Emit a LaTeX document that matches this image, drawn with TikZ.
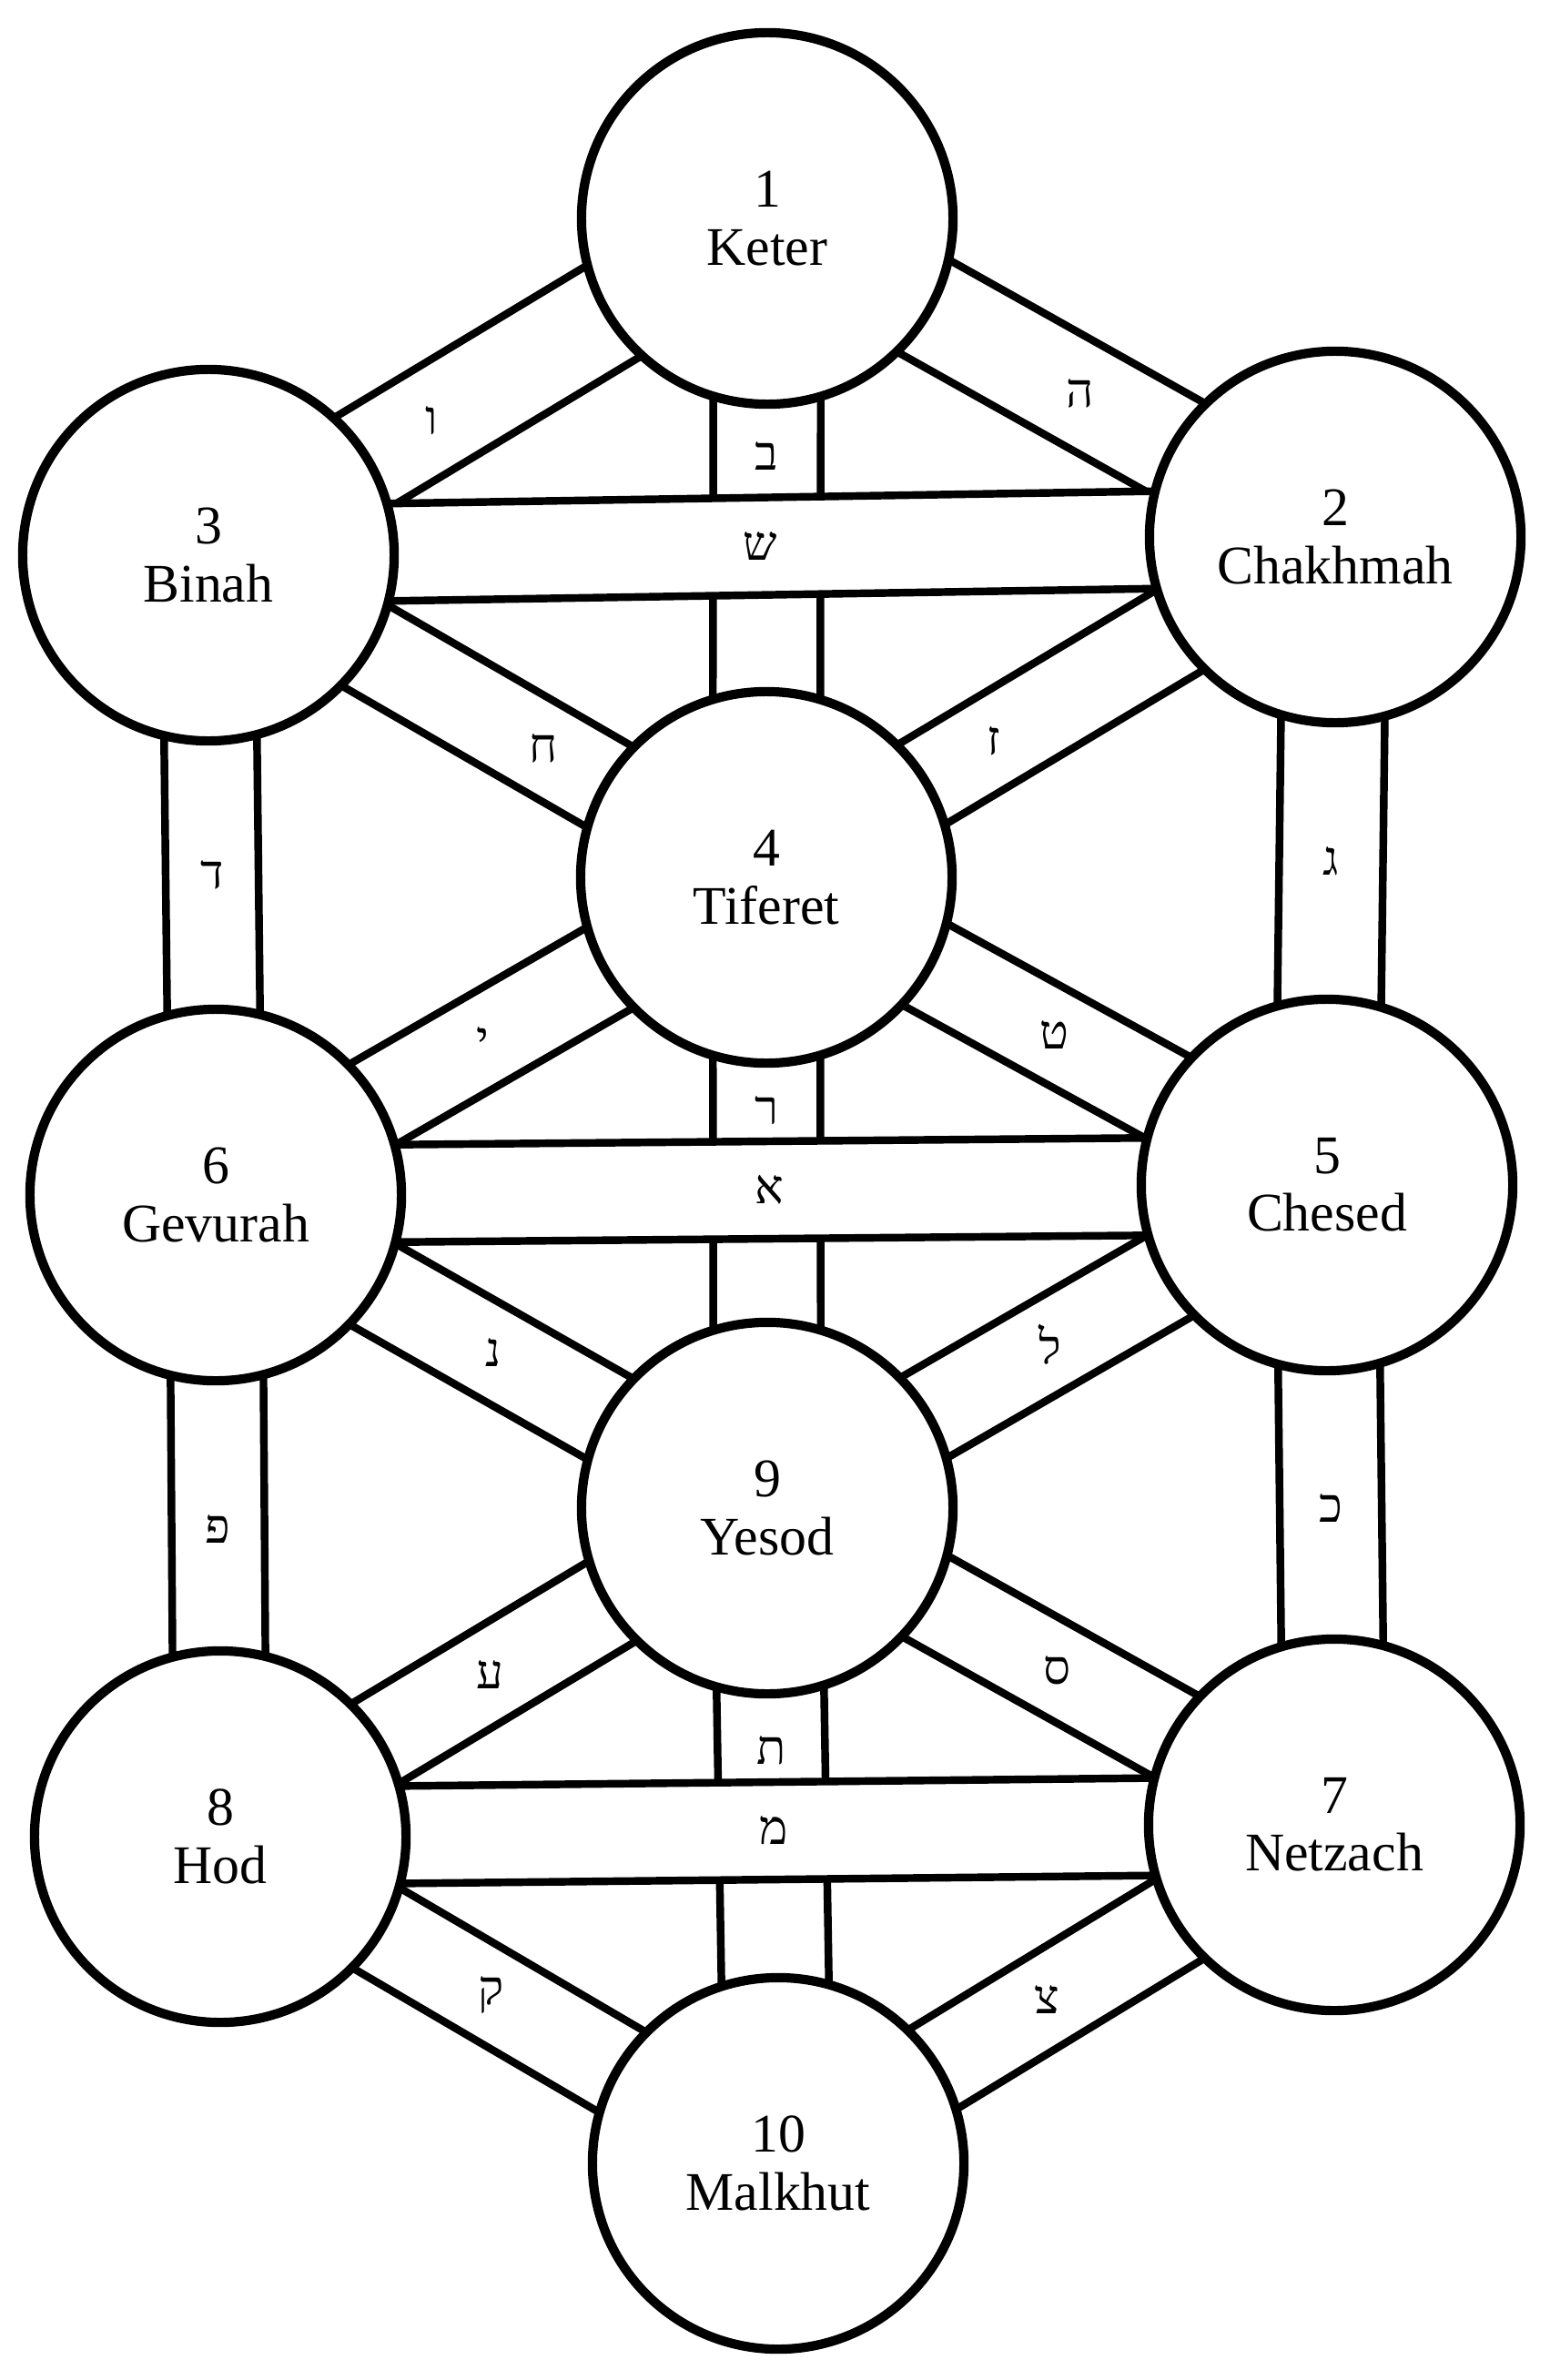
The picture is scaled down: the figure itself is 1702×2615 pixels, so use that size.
\documentclass[tikz,border=0pt]{standalone}
\usepackage{fontspec}
\setmainfont{Liberation Serif}
\newfontfamily\hebfont[Script=Hebrew]{Liberation Serif}
\usetikzlibrary{calc,backgrounds}

\tikzset{
  sefira/.style={circle, draw, line width=2.9pt, fill=white, minimum size=4.08cm,
    inner sep=0pt, align=center, font=\fontsize{17}{18}\selectfont},
  channel/.style={draw, fill=white, line width=2.4pt},
  letter/.style={font=\hebfont\fontsize{15}{15}\selectfont, inner sep=1pt},
}
% #1 half width, #2 and #3 the two sefirot
\newcommand\channel[3]{%
  \draw[channel] ($(#2)!#1!90:(#3)$) -- ($(#3)!#1!-90:(#2)$)
    -- ($(#3)!#1!90:(#2)$) -- ($(#2)!#1!-90:(#3)$) -- cycle;}

\begin{document}
\begin{tikzpicture}[x=0.01cm, y=-0.01cm]
  \useasboundingbox (0,0) rectangle (1702,2615);

  \node[sefira] (keter)    at (843,240)   {1\\Keter};
  \node[sefira] (chakhmah) at (1467,590)  {2\\Chakhmah};
  \node[sefira] (binah)    at (229,610)   {3\\Binah};
  \node[sefira] (tiferet)  at (842,964)   {4\\Tiferet};
  \node[sefira] (chesed)   at (1458,1302) {5\\Chesed};
  \node[sefira] (gevurah)  at (237,1313)  {6\\Gevurah};
  \node[sefira] (netzach)  at (1466,2005) {7\\Netzach};
  \node[sefira] (hod)      at (242,2018)  {8\\Hod};
  \node[sefira] (yesod)    at (843,1657)  {9\\Yesod};
  \node[sefira] (malkhut)  at (855,2377)  {10\\Malkhut};

  \begin{scope}[on background layer]
    % vertical paths
    \channel{0.59cm}{keter}{tiferet}
    \channel{0.59cm}{tiferet}{yesod}
    \channel{0.59cm}{yesod}{malkhut}
    \channel{0.51cm}{binah}{gevurah}
    \channel{0.57cm}{chakhmah}{chesed}
    \channel{0.51cm}{gevurah}{hod}
    \channel{0.56cm}{chesed}{netzach}
    % diagonal paths
    \channel{0.58cm}{keter}{binah}
    \channel{0.58cm}{keter}{chakhmah}
    \channel{0.51cm}{binah}{tiferet}
    \channel{0.51cm}{chakhmah}{tiferet}
    \channel{0.51cm}{gevurah}{tiferet}
    \channel{0.51cm}{chesed}{tiferet}
    \channel{0.51cm}{gevurah}{yesod}
    \channel{0.51cm}{chesed}{yesod}
    \channel{0.51cm}{hod}{yesod}
    \channel{0.51cm}{netzach}{yesod}
    \channel{0.51cm}{hod}{malkhut}
    \channel{0.51cm}{netzach}{malkhut}
    % horizontal paths
    \channel{0.535cm}{binah}{chakhmah}
    \channel{0.535cm}{gevurah}{chesed}
    \channel{0.535cm}{hod}{netzach}
  \end{scope}

  % letters
  \path (keter.center) -- (binah.center) node[letter, pos=0.6] (vav) {ו};
  \path (keter.center) -- (chakhmah.center) node[letter, pos=0.55] (he) {ה};
  \path (keter.center) -- (tiferet.center) node[letter, pos=0.36] (bet) {ב};
  \path (binah.center) -- (chakhmah.center) node[letter, pos=0.49] (shin) {ש};
  \path (binah.center) -- (tiferet.center) node[letter, pos=0.6] (chet) {ח};
  \path (chakhmah.center) -- (tiferet.center) node[letter, pos=0.6] (zayin) {ז};
  \path (binah.center) -- (gevurah.center) node[letter, pos=0.5] (dalet) {ד};
  \path (chakhmah.center) -- (chesed.center) node[letter, pos=0.5] (gimel) {ג};
  \path (gevurah.center) -- (tiferet.center) node[letter, pos=0.485] (yud) {י};
  \path (chesed.center) -- (tiferet.center) node[letter, pos=0.487] (tet) {ט};
  \path (tiferet.center) -- (yesod.center) node[letter, pos=0.37] (resh) {ר};
  \path (gevurah.center) -- (chesed.center) node[letter, pos=0.498] (aleph) {א};
  \path (gevurah.center) -- (yesod.center) node[letter, pos=0.503] (nun) {נ};
  \path (chesed.center) -- (yesod.center) node[letter, pos=0.494] (lamed) {ל};
  \path (gevurah.center) -- (hod.center) node[letter, pos=0.52] (pe) {פ};
  \path (chesed.center) -- (netzach.center) node[letter, pos=0.505] (kaf) {כ};
  \path (hod.center) -- (yesod.center) node[letter, pos=0.494] (ayin) {ע};
  \path (netzach.center) -- (yesod.center) node[letter, pos=0.488] (samekh) {ס};
  \path (yesod.center) -- (malkhut.center) node[letter, pos=0.37] (tav) {ת};
  \path (hod.center) -- (netzach.center) node[letter, pos=0.497] (mem) {מ};
  \path (hod.center) -- (malkhut.center) node[letter, pos=0.486] (kuf) {ק};
  \path (netzach.center) -- (malkhut.center) node[letter, pos=0.516] (tsadi) {צ};
\end{tikzpicture}
\end{document}
